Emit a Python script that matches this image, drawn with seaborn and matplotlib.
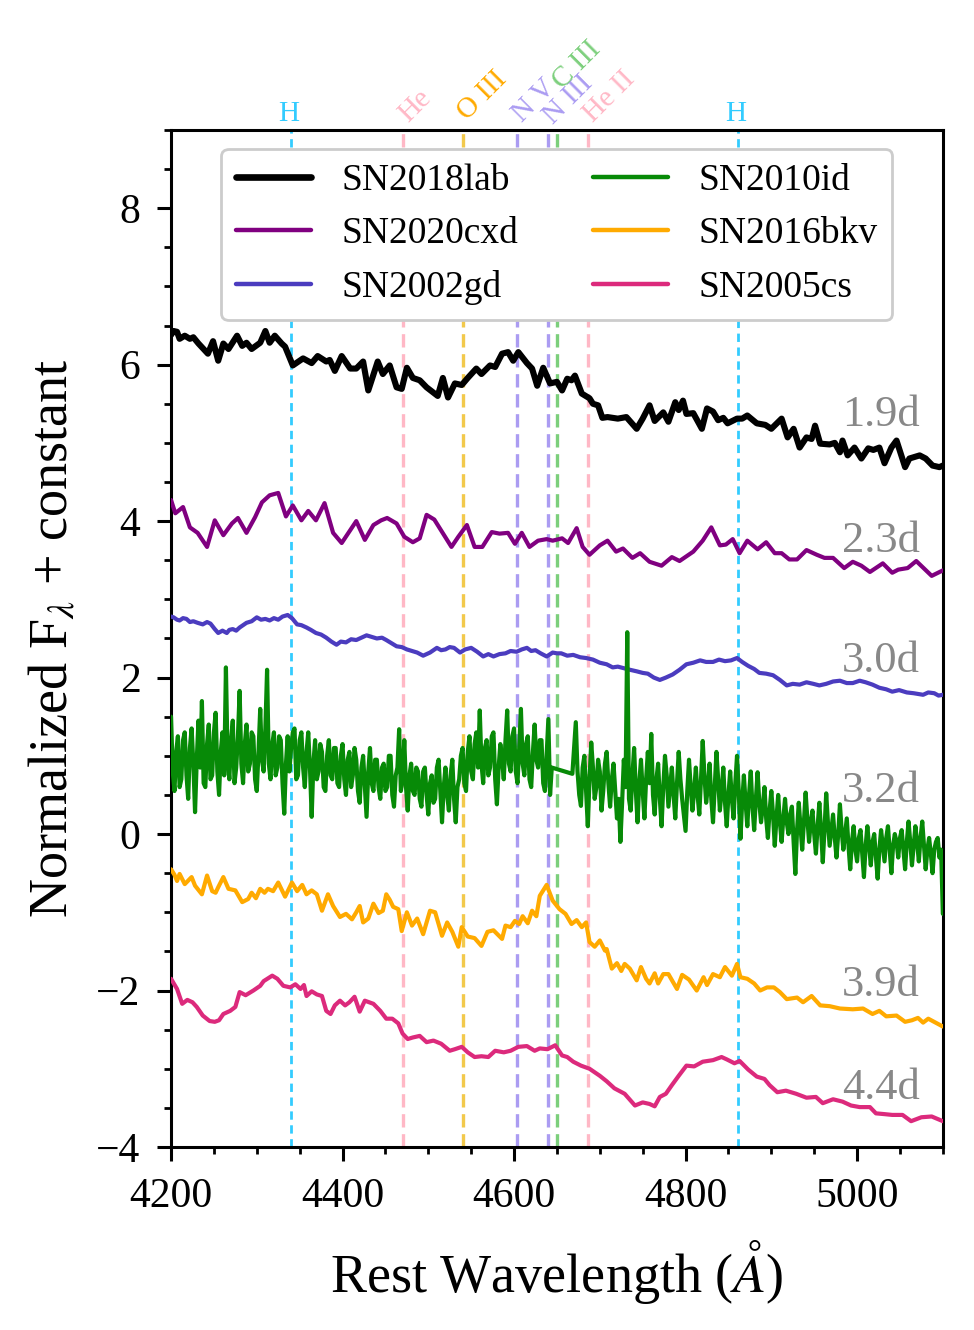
import numpy as np
import matplotlib
matplotlib.use('Agg')
import matplotlib.pyplot as plt
from matplotlib.ticker import MultipleLocator
import seaborn as sns

# SN2018lab, 1.9d
wl_18lab = [4200, 4203, 4207, 4210, 4216, 4222, 4226, 4232, 4243, 4249, 4255, 4261, 4267, 4277, 4283,
            4288, 4294, 4304, 4310, 4315, 4321, 4329, 4333, 4342, 4354, 4364, 4371, 4381, 4385, 4391,
            4399, 4409, 4416, 4424, 4430, 4441, 4447, 4455, 4463, 4469, 4475, 4482, 4490, 4498, 4511,
            4517, 4523, 4531, 4539, 4546, 4556, 4562, 4572, 4578, 4586, 4593, 4599, 4605, 4615, 4621,
            4627, 4634, 4642, 4650, 4656, 4662, 4667, 4671, 4679, 4688, 4692, 4698, 4703, 4709, 4721,
            4731, 4743, 4750, 4758, 4764, 4774, 4780, 4788, 4792, 4797, 4801, 4809, 4819, 4825, 4832,
            4838, 4844, 4849, 4860, 4866, 4872, 4883, 4893, 4900, 4912, 4919, 4926, 4933, 4941, 4947,
            4951, 4957, 4968, 4974, 4980, 4983, 4989, 4997, 5005, 5013, 5019, 5026, 5032, 5040, 5046,
            5056, 5061, 5073, 5080, 5088, 5096, 5100]
fl_18lab = [6.38, 6.43, 6.42, 6.33, 6.37, 6.33, 6.35, 6.27, 6.14, 6.30, 6.05, 6.27, 6.20, 6.37, 6.24,
            6.28, 6.20, 6.28, 6.43, 6.28, 6.37, 6.27, 6.23, 5.99, 6.08, 6.02, 6.11, 6.04, 6.06, 5.92,
            6.11, 5.95, 5.95, 6.04, 5.67, 6.04, 5.88, 5.99, 5.71, 5.69, 5.96, 5.83, 5.80, 5.71, 5.60,
            5.83, 5.58, 5.76, 5.74, 5.83, 5.95, 5.88, 5.99, 5.97, 6.14, 6.16, 6.05, 6.16, 6.02, 5.95,
            5.73, 5.96, 5.76, 5.78, 5.67, 5.82, 5.80, 5.86, 5.63, 5.57, 5.50, 5.48, 5.32, 5.33, 5.31,
            5.33, 5.18, 5.31, 5.48, 5.28, 5.39, 5.27, 5.52, 5.42, 5.54, 5.37, 5.38, 5.18, 5.44, 5.40,
            5.29, 5.32, 5.25, 5.31, 5.31, 5.35, 5.25, 5.23, 5.18, 5.31, 5.07, 5.18, 4.94, 5.07, 5.05,
            5.22, 4.99, 4.98, 5.00, 4.88, 5.03, 4.84, 4.94, 4.80, 4.93, 4.91, 4.94, 4.74, 4.94, 5.03,
            4.69, 4.80, 4.84, 4.80, 4.71, 4.69, 4.71]

# SN2020cxd, 2.3d
wl_20cxd = [4200, 4205, 4214, 4222, 4231, 4242, 4251, 4261, 4271, 4278, 4288, 4298, 4306, 4315, 4325,
            4334, 4342, 4352, 4360, 4369, 4379, 4389, 4399, 4416, 4426, 4436, 4445, 4452, 4463, 4472,
            4482, 4490, 4498, 4507, 4527, 4535, 4545, 4554, 4563, 4574, 4583, 4593, 4601, 4609, 4618,
            4628, 4638, 4645, 4656, 4663, 4673, 4680, 4688, 4700, 4709, 4719, 4727, 4738, 4747, 4758,
            4772, 4784, 4793, 4809, 4820, 4830, 4840, 4847, 4855, 4863, 4872, 4884, 4894, 4904, 4912,
            4921, 4930, 4941, 4953, 4962, 4972, 4985, 4995, 5005, 5015, 5030, 5041, 5048, 5059, 5069,
            5087, 5100]
fl_20cxd = [4.27, 4.10, 4.18, 3.92, 3.85, 3.67, 4.01, 3.82, 3.97, 4.04, 3.85, 4.05, 4.24, 4.33, 4.36,
            4.06, 4.20, 4.01, 4.13, 4.01, 4.23, 3.85, 3.72, 4.00, 3.76, 3.95, 4.01, 4.04, 3.97, 3.80,
            3.73, 3.78, 4.08, 4.02, 3.67, 3.80, 3.95, 3.67, 3.67, 3.86, 3.84, 3.85, 3.71, 3.85, 3.67,
            3.75, 3.77, 3.75, 3.78, 3.72, 3.91, 3.67, 3.57, 3.69, 3.75, 3.61, 3.65, 3.53, 3.59, 3.48,
            3.43, 3.54, 3.49, 3.61, 3.75, 3.92, 3.69, 3.70, 3.77, 3.59, 3.75, 3.64, 3.73, 3.59, 3.59,
            3.51, 3.51, 3.63, 3.57, 3.53, 3.53, 3.40, 3.48, 3.43, 3.35, 3.46, 3.34, 3.38, 3.40, 3.49,
            3.30, 3.37]

# SN2002gd, 3.0d
wl_02gd = [4200, 4203, 4207, 4210, 4214, 4218, 4222, 4226, 4231, 4237, 4242, 4246, 4251, 4255, 4260,
           4265, 4268, 4272, 4276, 4280, 4284, 4288, 4294, 4300, 4305, 4310, 4315, 4320, 4325, 4330,
           4336, 4341, 4347, 4352, 4358, 4363, 4369, 4375, 4381, 4387, 4393, 4398, 4404, 4410, 4416,
           4422, 4428, 4434, 4440, 4446, 4451, 4457, 4463, 4469, 4475, 4481, 4487, 4494, 4502, 4510,
           4515, 4520, 4525, 4530, 4537, 4543, 4550, 4557, 4564, 4570, 4576, 4583, 4590, 4596, 4603,
           4609, 4615, 4620, 4625, 4631, 4638, 4645, 4650, 4655, 4662, 4669, 4677, 4684, 4692, 4700,
           4708, 4715, 4721, 4728, 4735, 4743, 4750, 4756, 4763, 4770, 4777, 4785, 4793, 4801, 4809,
           4817, 4824, 4832, 4839, 4846, 4853, 4860, 4866, 4873, 4880, 4886, 4894, 4902, 4910, 4918,
           4925, 4933, 4941, 4949, 4956, 4964, 4972, 4980, 4988, 4995, 5003, 5010, 5018, 5026, 5034,
           5041, 5049, 5058, 5066, 5077, 5083, 5090, 5095, 5100]
fl_02gd = [2.78, 2.77, 2.74, 2.73, 2.76, 2.75, 2.71, 2.72, 2.70, 2.68, 2.71, 2.69, 2.62, 2.57, 2.60,
           2.57, 2.61, 2.62, 2.60, 2.64, 2.67, 2.70, 2.72, 2.77, 2.74, 2.75, 2.73, 2.76, 2.74, 2.78,
           2.80, 2.76, 2.68, 2.67, 2.64, 2.61, 2.57, 2.55, 2.51, 2.46, 2.42, 2.46, 2.45, 2.49, 2.48,
           2.51, 2.54, 2.52, 2.50, 2.51, 2.48, 2.44, 2.40, 2.39, 2.36, 2.34, 2.32, 2.28, 2.32, 2.38,
           2.35, 2.36, 2.39, 2.38, 2.32, 2.36, 2.38, 2.33, 2.27, 2.30, 2.27, 2.30, 2.31, 2.34, 2.33,
           2.36, 2.38, 2.34, 2.35, 2.31, 2.27, 2.32, 2.31, 2.31, 2.28, 2.29, 2.26, 2.25, 2.23, 2.19,
           2.17, 2.13, 2.14, 2.12, 2.10, 2.08, 2.06, 2.05, 2.00, 1.97, 2.00, 2.04, 2.10, 2.17, 2.19,
           2.22, 2.20, 2.20, 2.23, 2.21, 2.22, 2.25, 2.20, 2.15, 2.11, 2.06, 2.05, 2.03, 1.97, 1.90,
           1.92, 1.91, 1.94, 1.92, 1.90, 1.92, 1.95, 1.96, 1.93, 1.93, 1.96, 1.94, 1.91, 1.87, 1.85,
           1.82, 1.84, 1.81, 1.80, 1.78, 1.81, 1.80, 1.77, 1.78]

# SN2010id, 3.2d (2 A sampling, gap 4644-4668)
fl_10id_blue = [1.50, 0.80, 0.55, 1.05, 1.25, 0.60, 0.70, 1.20, 1.30, 0.75, 0.45, 1.10, 1.35, 0.90, 0.28, 0.95, 1.45, 0.85, 1.70, 0.65,
                0.60, 1.15, 1.40, 0.70, 0.75, 1.30, 1.55, 0.80, 0.50, 1.05, 1.30, 0.75, 2.13, 0.95, 0.70, 1.20, 1.45, 0.65, 0.85, 1.25,
                1.83, 0.90, 0.65, 1.15, 1.40, 0.80, 0.90, 1.30, 1.25, 0.70, 0.55, 1.05, 1.60, 0.95, 0.80, 1.35, 2.10, 0.90, 0.70, 1.15,
                1.30, 0.75, 0.85, 1.25, 1.20, 0.65, 0.26, 0.90, 1.25, 0.80, 1.10, 1.30, 1.35, 0.70, 0.75, 1.20, 1.30, 0.85, 0.60, 1.05,
                1.30, 0.85, 0.22, 0.90, 1.20, 0.70, 0.80, 1.15, 1.05, 0.60, 0.55, 1.00, 1.20, 0.75, 0.70, 1.10, 1.10, 0.65, 0.60, 1.00,
                1.15, 0.70, 0.50, 0.95, 1.05, 0.60, 0.75, 1.10, 0.95, 0.55, 0.40, 0.85, 1.00, 0.60, 0.22, 0.80, 1.10, 0.65, 0.55, 0.95,
                0.95, 0.60, 0.45, 0.85, 0.90, 0.55, 0.60, 1.00, 1.00, 0.50, 0.35, 0.75, 0.85, 1.34, 0.55, 0.70, 1.20, 0.60, 0.30, 0.75,
                0.90, 0.55, 0.50, 0.85, 0.80, 0.45, 0.35, 0.80, 0.85, 0.50, 0.25, 0.65, 0.75, 0.40, 0.45, 0.85, 0.95, 0.55, 0.15, 0.60,
                0.85, 0.50, 0.30, 0.75, 0.95, 0.45, 0.15, 0.60, 0.70, 1.00, 1.10, 0.65, 0.55, 1.05, 1.25, 0.80, 0.70, 1.15, 1.30, 0.85,
                1.58, 0.90, 0.65, 1.10, 1.20, 0.75, 0.85, 1.25, 1.30, 0.70, 0.38, 0.85, 1.15, 0.95, 0.70, 1.20, 1.58, 0.90, 0.80, 1.25,
                1.35, 0.80, 0.65, 1.10, 1.60, 0.90, 0.75, 1.15, 1.25, 0.70, 0.60, 1.05, 1.40, 0.95, 0.85, 1.20, 1.20, 0.65, 0.55, 1.00,
                1.47, 0.50, 0.85]
fl_10id_red = [0.77, 1.10, 1.43, 0.80, 0.50, 0.36, 0.85, 1.00, 0.55, 0.10, 0.70, 1.17, 0.85, 0.45, 0.60, 0.95, 0.80, 0.30, 0.55, 0.90,
               1.05, 0.65, 0.35, 0.70, 0.90, 0.55, 0.20, 0.45, -0.10, 0.40, 0.95, 0.60, 2.58, 0.45, 0.30, 0.75, 1.10, 0.55, 0.15, 0.65,
               0.95, 0.55, 0.20, 0.70, 1.05, 0.65, 1.28, 0.50, 0.25, 0.70, 0.90, 0.45, 0.10, 0.60, 1.00, 0.75, 0.35, 0.60, 0.85, 0.50,
               0.20, 0.65, 1.05, 0.70, 0.45, 0.25, 0.04, 0.55, 0.95, 0.60, 0.30, 0.55, 0.85, 0.50, 0.25, 0.70, 1.19, 0.75, 0.40, 0.60,
               0.90, 0.45, 0.15, 0.60, 1.05, 0.70, 0.30, 0.55, 0.85, 0.40, 0.10, 0.50, 0.80, 0.45, 0.20, 0.65, 1.00, 0.55, -0.06, 0.40,
               0.75, 0.40, 0.10, 0.50, 0.80, 0.35, 0.05, 0.45, 0.79, 0.40, 0.15, 0.35, 0.60, 0.20, -0.05, 0.30, 0.55, 0.25, -0.15, 0.20,
               0.50, 0.15, -0.10, 0.20, 0.45, 0.15, 0.00, 0.25, 0.35, -0.10, -0.51, 0.05, 0.40, 0.10, -0.20, 0.15, 0.53, 0.20, -0.10, 0.15,
               0.30, 0.00, -0.25, 0.10, 0.40, 0.05, -0.36, 0.05, 0.52, 0.15, -0.15, 0.05, 0.25, -0.05, -0.30, 0.00, 0.38, 0.05, -0.20, 0.00,
               0.20, -0.15, -0.45, -0.10, 0.10, -0.20, -0.35, -0.05, 0.05, -0.25, -0.55, -0.15, 0.10, -0.15, -0.40, -0.10, 0.00, -0.30, -0.57, -0.20,
               0.05, -0.15, -0.35, -0.05, 0.10, -0.20, -0.50, -0.15, 0.00, -0.10, -0.30, -0.05, 0.05, -0.20, -0.45, -0.10, 0.16, -0.10, -0.40, -0.15,
               0.10, -0.10, -0.35, -0.05, 0.16, -0.15, -0.45, -0.20, -0.05, -0.25, -0.50, -0.20, -0.10, -0.05, -0.30, -0.20, -1.02]
wl_10id = np.concatenate([4200 + 2 * np.arange(len(fl_10id_blue)),
                          4668 + 2 * np.arange(len(fl_10id_red))])
fl_10id = np.concatenate([fl_10id_blue, fl_10id_red])

# SN2016bkv, 3.9d
wl_16bkv = [4200, 4204, 4207, 4210, 4216, 4224, 4228, 4236, 4242, 4248, 4252, 4255, 4261, 4267, 4275,
            4283, 4290, 4294, 4299, 4304, 4309, 4313, 4319, 4325, 4333, 4341, 4347, 4353, 4358, 4364,
            4370, 4376, 4383, 4389, 4397, 4404, 4411, 4416, 4420, 4424, 4430, 4436, 4442, 4447, 4451,
            4455, 4459, 4465, 4469, 4475, 4481, 4487, 4494, 4502, 4508, 4516, 4522, 4528, 4535, 4539,
            4546, 4554, 4562, 4569, 4576, 4586, 4590, 4596, 4601, 4606, 4610, 4616, 4621, 4626, 4630,
            4638, 4645, 4653, 4660, 4667, 4673, 4679, 4684, 4688, 4694, 4700, 4706, 4708, 4714, 4720,
            4725, 4729, 4735, 4743, 4748, 4754, 4758, 4764, 4768, 4774, 4780, 4790, 4796, 4804, 4813,
            4821, 4825, 4832, 4840, 4846, 4854, 4860, 4864, 4872, 4880, 4887, 4895, 4903, 4910, 4918,
            4930, 4937, 4947, 4957, 4968, 4980, 4995, 5007, 5018, 5026, 5034, 5046, 5056, 5064, 5071,
            5077, 5083, 5100]
fl_16bkv = [-0.45, -0.52, -0.60, -0.51, -0.64, -0.55, -0.66, -0.77, -0.53, -0.73, -0.75, -0.68, -0.55, -0.70, -0.72,
            -0.87, -0.83, -0.75, -0.82, -0.70, -0.75, -0.70, -0.73, -0.62, -0.80, -0.62, -0.73, -0.65, -0.77, -0.72,
            -0.77, -0.98, -0.77, -0.92, -1.06, -1.02, -1.09, -1.00, -0.92, -1.13, -1.08, -0.89, -1.01, -0.98, -0.77,
            -0.84, -0.93, -0.96, -1.24, -1.00, -1.17, -1.08, -1.28, -0.98, -1.00, -1.30, -1.13, -1.25, -1.44, -1.19,
            -1.31, -1.33, -1.43, -1.25, -1.23, -1.34, -1.17, -1.19, -1.11, -1.15, -1.05, -1.14, -0.98, -1.05, -0.79,
            -0.65, -0.85, -0.96, -1.02, -1.15, -1.10, -1.19, -1.13, -1.38, -1.44, -1.36, -1.49, -1.47, -1.72, -1.65,
            -1.75, -1.66, -1.72, -1.87, -1.70, -1.85, -1.91, -1.78, -1.91, -1.79, -1.79, -1.98, -1.80, -1.86, -2.00,
            -1.83, -1.93, -1.79, -1.83, -1.70, -1.81, -1.66, -1.83, -1.85, -1.91, -2.00, -1.96, -1.96, -2.02, -2.11,
            -2.09, -2.15, -2.07, -2.19, -2.20, -2.23, -2.24, -2.23, -2.30, -2.26, -2.33, -2.32, -2.40, -2.38, -2.35,
            -2.41, -2.36, -2.46]

# SN2005cs, 4.4d
wl_05cs = [4200, 4207, 4213, 4219, 4225, 4230, 4237, 4245, 4251, 4256, 4261, 4269, 4275, 4280, 4287,
           4296, 4304, 4308, 4318, 4324, 4331, 4339, 4345, 4351, 4355, 4358, 4364, 4370, 4376, 4381,
           4386, 4391, 4397, 4403, 4408, 4414, 4420, 4426, 4436, 4444, 4451, 4458, 4465, 4470, 4476,
           4482, 4490, 4498, 4506, 4515, 4525, 4531, 4539, 4546, 4554, 4562, 4570, 4578, 4588, 4596,
           4605, 4615, 4624, 4630, 4639, 4648, 4656, 4662, 4669, 4678, 4688, 4700, 4708, 4717, 4729,
           4741, 4750, 4758, 4764, 4770, 4777, 4784, 4792, 4801, 4810, 4820, 4832, 4842, 4848, 4857,
           4863, 4873, 4883, 4892, 4898, 4907, 4917, 4929, 4941, 4952, 4960, 4972, 4983, 4993, 5003,
           5015, 5022, 5032, 5041, 5053, 5063, 5075, 5087, 5100]
fl_05cs = [-1.85, -1.98, -2.17, -2.12, -2.15, -2.21, -2.32, -2.39, -2.40, -2.38, -2.30, -2.26, -2.21, -2.02, -2.06,
           -2.00, -1.94, -1.88, -1.81, -1.85, -1.94, -1.96, -1.92, -1.98, -1.93, -2.07, -2.01, -2.05, -2.07, -2.26,
           -2.30, -2.19, -2.13, -2.19, -2.15, -2.08, -2.27, -2.13, -2.17, -2.26, -2.36, -2.36, -2.42, -2.55, -2.62,
           -2.60, -2.58, -2.66, -2.64, -2.68, -2.77, -2.75, -2.72, -2.79, -2.85, -2.84, -2.85, -2.77, -2.79, -2.77,
           -2.72, -2.71, -2.77, -2.74, -2.75, -2.70, -2.83, -2.85, -2.91, -2.96, -3.00, -3.09, -3.16, -3.25, -3.32,
           -3.47, -3.43, -3.45, -3.48, -3.36, -3.32, -3.21, -3.09, -2.96, -2.97, -2.91, -2.89, -2.85, -2.88, -2.93,
           -2.90, -3.01, -3.10, -3.13, -3.21, -3.30, -3.28, -3.32, -3.37, -3.36, -3.44, -3.39, -3.42, -3.47, -3.49,
           -3.49, -3.57, -3.58, -3.59, -3.59, -3.67, -3.62, -3.61, -3.67]

names = ['SN2018lab', 'SN2020cxd', 'SN2002gd', 'SN2010id', 'SN2016bkv', 'SN2005cs']
phases = ['1.9d', '2.3d', '3.0d', '3.2d', '3.9d', '4.4d']
phase_y = [5.36, 3.74, 2.21, 0.55, -1.93, -3.25]
colors = ['black', '#800080', '#4b3cbf', '#078a07', '#ffaa00', '#dc2a7c']
widths = [2.2, 1.5, 1.5, 1.5, 1.5, 1.5]
spectra = [(wl_18lab, fl_18lab), (wl_20cxd, fl_20cxd), (wl_02gd, fl_02gd),
           (wl_10id, fl_10id), (wl_16bkv, fl_16bkv), (wl_05cs, fl_05cs)]

# line identifications
line_names = ['H', 'He', 'O III', 'N V', 'N III', 'C III', 'He II', 'H']
line_wl = [4340, 4471, 4540, 4604, 4640, 4650, 4686, 4861]
line_colors = ['#33ccff', '#ffb8c6', '#f2c94c', '#ab9cf2', '#ab9cf2', '#7ccf7c', '#ffb8c6', '#33ccff']
label_colors = ['#33ccff', '#ffb8c6', '#ffaa00', '#ab9cf2', '#ab9cf2', '#7ccf7c', '#ffb8c6', '#33ccff']
label_y = [9.12, 9.04, 9.06, 9.04, 9.01, 9.46, 9.04, 9.12]

sns.set_style('ticks')
plt.rcParams['font.family'] = ['Liberation Serif', 'DejaVu Serif']
plt.rcParams['mathtext.fontset'] = 'stix'
plt.rcParams['text.color'] = 'black'
plt.rcParams['axes.labelcolor'] = 'black'
plt.rcParams['xtick.color'] = 'black'
plt.rcParams['ytick.color'] = 'black'

fig, ax = plt.subplots(figsize=(4.87, 6.65), dpi=200)
fig.subplots_adjust(left=0.1756, right=0.968, top=0.9023, bottom=0.1376)

for w, c, n in zip(line_wl, line_colors, line_names):
    if n == 'H':
        ax.axvline(w, color=c, lw=1.0, ls=(0, (3, 2)), zorder=1)
    else:
        ax.axvline(w, color=c, lw=1.2, ls=(0, (4, 2)), zorder=1)

for (wl, fl), name, c, lw in zip(spectra, names, colors, widths):
    sns.lineplot(x=wl, y=fl, ax=ax, color=c, lw=lw, label=name,
                 sort=False, estimator=None, zorder=3)

for ph, py in zip(phases, phase_y):
    ax.text(5073, py, ph, color='#888888', fontsize=16, ha='right', va='center', zorder=4)

for n, w, c, ly in zip(line_names, line_wl, label_colors, label_y):
    if n == 'H':
        ax.text(w - 3, ly, n, color=c, fontsize=10.5, ha='center', va='baseline', clip_on=False)
    else:
        ax.text(w - 11, ly, n, color=c, fontsize=10.5, ha='left', va='bottom',
                rotation=45, clip_on=False)

ax.set_xlim(4200, 5100)
ax.set_ylim(-4, 9)
ax.xaxis.set_major_locator(MultipleLocator(200))
ax.xaxis.set_minor_locator(MultipleLocator(50))
ax.yaxis.set_major_locator(MultipleLocator(2))
ax.yaxis.set_minor_locator(MultipleLocator(0.5))
ax.tick_params(which='major', direction='out', length=5, width=1.1, labelsize=15, pad=6)
ax.tick_params(which='minor', direction='out', length=2.5, width=1.0)
for sp in ax.spines.values():
    sp.set_color('black')
    sp.set_linewidth(1.1)

ax.set_xlabel(r'Rest Wavelength ($\AA$)', fontsize=19.5, labelpad=8)
ax.set_ylabel(r'Normalized F$_{\lambda}$ + constant', fontsize=19.5, labelpad=6)

leg = ax.legend(loc='upper center', ncol=2, fontsize=13.5, framealpha=1, edgecolor='0.8')
for h in leg.get_lines():
    h.set_linewidth(1.6)
leg.get_lines()[0].set_linewidth(2.4)

fig.savefig('out.png', dpi=200)
